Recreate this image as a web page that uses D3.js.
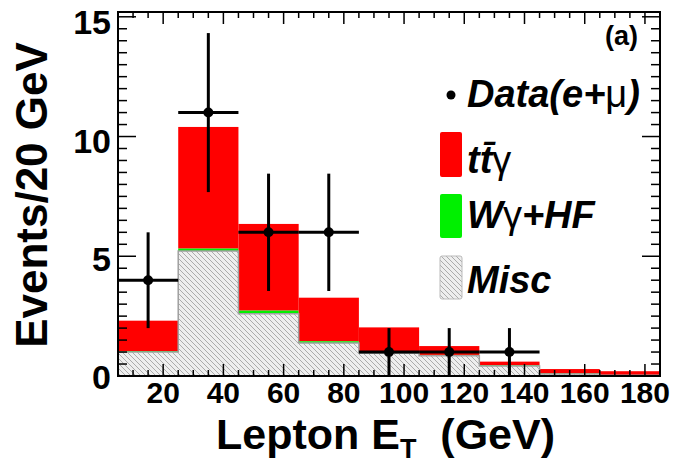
<!DOCTYPE html>
<html><head><meta charset="utf-8">
<script src="https://cdn.jsdelivr.net/npm/d3@7"></script>
<style>body{margin:0;background:#fff}svg{display:block}</style>
</head><body>
<svg id="c" width="677" height="466"></svg>
<script>
// ---- data ----
const binLow = [5, 25, 45, 65, 85, 105, 125, 145, 165];
const binWidth = 20;
const miscVals = [1.0, 5.22, 2.6, 1.38, 0.95, 0.85, 0.42, 0.08, 0.03];
const wgVals   = [0.04, 0.1, 0.13, 0.07, 0.04, 0.03, 0.03, 0.02, 0.01];
const ttgVals  = [1.27, 5.08, 3.62, 1.82, 1.04, 0.37, 0.15, 0.19, 0.16];
const dataX   = [15, 35, 55, 75, 95, 115, 135];
const dataY   = [4, 11, 6, 6, 1, 1, 1];
const dataErr = [2, 3.32, 2.45, 2.45, 1, 1, 1];
const xTicks = [20, 40, 60, 80, 100, 120, 140, 160, 180];
const yTicks = [0, 5, 10, 15];
const legendLabels = ["Data(e+μ)", "tt̄γ", "Wγ+HF", "Misc"];

const svg = d3.select("#c");
const L = 118, R = 660, T = 12, B = 376;
const x = d3.scaleLinear().domain([5, 185]).range([L, R]);
const y = d3.scaleLinear().domain([0, 15.2]).range([B, T]);

const defs = svg.append("defs");
const pat = defs.append("pattern").attr("id", "hatch").attr("patternUnits", "userSpaceOnUse")
  .attr("width", 5).attr("height", 5);
pat.append("rect").attr("width", 5).attr("height", 5).attr("fill", "#eeeeee");
pat.append("path").attr("d", "M-1,-1 L6,6 M-1,4 L1,6 M4,-1 L6,1").attr("stroke", "#ababab").attr("stroke-width", 1);

// stacked bins
const bins = binLow.map((lo, i) => ({lo, misc: miscVals[i], wg: wgVals[i], ttg: ttgVals[i]}));
const g = svg.append("g");
bins.forEach(b => {
  const x0 = x(b.lo), x1 = x(b.lo + binWidth);
  const m = b.misc, w = m + b.wg, t = w + b.ttg;
  g.append("rect").attr("x", x0).attr("width", x1 - x0).attr("y", y(t)).attr("height", y(w) - y(t)).attr("fill", "#ff0000");
  g.append("rect").attr("x", x0).attr("width", x1 - x0).attr("y", y(w)).attr("height", y(m) - y(w)).attr("fill", "#00f000");
  g.append("rect").attr("x", x0).attr("width", x1 - x0).attr("y", y(m)).attr("height", y(0) - y(m)).attr("fill", "url(#hatch)");
});
// misc outline (step)
const stepPts = [];
bins.forEach(b => { stepPts.push([x(b.lo), y(b.misc)]); stepPts.push([x(b.lo + binWidth), y(b.misc)]); });
g.append("path").attr("d", "M" + x(5) + "," + y(0) + "L" + stepPts.map(p => p.join(",")).join("L") + "L" + x(185) + "," + y(0))
  .attr("fill", "none").attr("stroke", "#a0a0a0").attr("stroke-width", 1.5);

// data points
const dg = svg.append("g");
dataX.forEach((dx, i) => {
  dg.append("line").attr("x1", x(dx - binWidth / 2)).attr("x2", x(dx + binWidth / 2)).attr("y1", y(dataY[i])).attr("y2", y(dataY[i]))
    .attr("stroke", "#000").attr("stroke-width", 3);
  dg.append("line").attr("x1", x(dx)).attr("x2", x(dx)).attr("y1", y(Math.max(0, dataY[i] - dataErr[i]))).attr("y2", y(dataY[i] + dataErr[i]))
    .attr("stroke", "#000").attr("stroke-width", 3);
  dg.append("circle").attr("cx", x(dx)).attr("cy", y(dataY[i])).attr("r", 5).attr("fill", "#000");
});

// frame
svg.append("rect").attr("x", L).attr("y", T).attr("width", R - L).attr("height", B - T)
  .attr("fill", "none").attr("stroke", "#000").attr("stroke-width", 2);

// ticks
const tk = svg.append("g").attr("stroke", "#000").attr("stroke-width", 1.5);
const xMinor = d3.range(5, 186, 5);
xMinor.forEach(v => {
  const major = xTicks.includes(v);
  const len = major ? 12 : 6;
  tk.append("line").attr("x1", x(v)).attr("x2", x(v)).attr("y1", B).attr("y2", B - len);
  tk.append("line").attr("x1", x(v)).attr("x2", x(v)).attr("y1", T).attr("y2", T + len);
});
const yMinor = d3.range(0, 15.01, 0.5);
yMinor.forEach(v => {
  const major = yTicks.includes(v);
  const len = major ? 18 : 9;
  tk.append("line").attr("x1", L).attr("x2", L + len).attr("y1", y(v)).attr("y2", y(v));
  tk.append("line").attr("x1", R).attr("x2", R - len).attr("y1", y(v)).attr("y2", y(v));
});

const font = "'Liberation Sans', Arial, Helvetica, sans-serif";
// tick labels
svg.append("g").selectAll("text").data(xTicks).join("text")
  .attr("x", d => x(d)).attr("y", 403).attr("text-anchor", "middle")
  .attr("font-family", font).attr("font-weight", "bold").attr("font-size", 30).text(d => d);
svg.append("g").selectAll("text").data(yTicks).join("text")
  .attr("x", 111).attr("y", d => y(d) + 13 + d * 0.3).attr("text-anchor", "end")
  .attr("font-family", font).attr("font-weight", "bold").attr("font-size", 34).text(d => d);

// axis titles
const xt = svg.append("text").attr("x", 216).attr("y", 449)
  .attr("font-family", font).attr("font-weight", "bold").attr("font-size", 43);
xt.append("tspan").text("Lepton E");
xt.append("tspan").attr("dy", 9).attr("font-size", 27).text("T");
xt.append("tspan").attr("dy", -9).text("\u00a0\u00a0(GeV)");

svg.append("text").attr("transform", "translate(47," + 195 + ") rotate(-90)")
  .attr("text-anchor", "middle").attr("font-family", font).attr("font-weight", "bold").attr("font-size", 44)
  .text("Events/20 GeV");

// (a)
svg.append("text").attr("x", 638).attr("y", 45).attr("text-anchor", "end")
  .attr("font-family", font).attr("font-weight", "bold").attr("font-size", 27).text("(a)");

// legend
const lg = svg.append("g");
lg.append("circle").attr("cx", 451).attr("cy", 95).attr("r", 4.5).attr("fill", "#000");
const swatches = [["#ff0000", 132, 177], ["#00f000", 194, 238], ["url(#hatch)", 256, 299]];
swatches.forEach(s => {
  lg.append("rect").attr("x", 440).attr("y", s[1]).attr("width", 22).attr("height", s[2] - s[1]).attr("rx", 2)
    .attr("fill", s[0]).attr("stroke", s[0] === "url(#hatch)" ? "#bbb" : "none");
});
const legY = [107, 173, 228, 293];
function legText(yy) {
  return lg.append("text").attr("x", 467).attr("y", yy).attr("font-family", font)
    .attr("font-weight", "bold").attr("font-style", "italic").attr("font-size", 38);
}
let t0 = legText(legY[0]);
t0.append("tspan").text("Data(e+");
t0.append("tspan").attr("font-style", "normal").attr("font-weight", "normal").text("μ");
t0.append("tspan").text(")");
let t1 = legText(legY[1]);
t1.append("tspan").text("tt̄");
t1.append("tspan").attr("font-style", "normal").attr("font-weight", "normal").text("γ");
let t2 = legText(legY[2]);
t2.append("tspan").text("W");
t2.append("tspan").attr("font-style", "normal").attr("font-weight", "normal").text("γ");
t2.append("tspan").text("+HF");
legText(legY[3]).text(legendLabels[3]);
</script>
</body></html>
